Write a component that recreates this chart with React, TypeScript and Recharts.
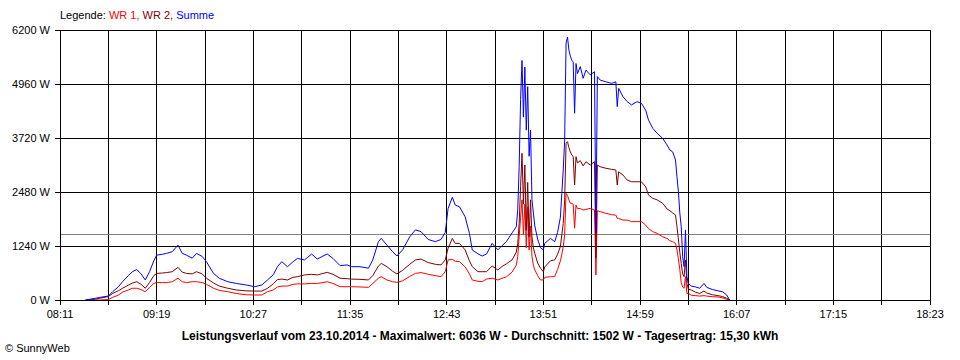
import { LineChart, Line, XAxis, YAxis, CartesianGrid, ReferenceLine } from 'recharts'

// Messzeitpunkte (hh:mm) und Leistung in W je Wechselrichter
const times = [
  '08:29', '08:36', '08:39', '08:45', '08:48', '08:52', '08:55', '08:59', '09:02', '09:05',
  '09:08', '09:11', '09:14', '09:17', '09:19', '09:23', '09:26', '09:30', '09:34', '09:37',
  '09:40', '09:44', '09:47', '09:51', '09:54', '09:59', '10:03', '10:09', '10:15', '10:22',
  '10:28', '10:33', '10:37', '10:41', '10:44', '10:47', '10:51', '10:55', '10:58', '11:03',
  '11:08', '11:12', '11:16', '11:19', '11:23', '11:28', '11:33', '11:36', '11:42', '11:48',
  '11:51', '11:55', '11:57', '12:01', '12:05', '12:08', '12:12', '12:17', '12:21', '12:25',
  '12:30', '12:35', '12:39', '12:42', '12:44', '12:47', '12:49', '12:52', '12:56', '12:59',
  '13:01', '13:05', '13:08', '13:11', '13:15', '13:19', '13:22', '13:25', '13:29', '13:32',
  '13:33', '13:34', '13:35', '13:36', '13:37', '13:38', '13:39', '13:40', '13:41', '13:42',
  '13:43', '13:44', '13:45', '13:47', '13:49', '13:51', '13:52', '13:56', '13:59', '14:01',
  '14:03', '14:04', '14:05', '14:06', '14:07', '14:08', '14:09', '14:10', '14:11', '14:12',
  '14:13', '14:14', '14:15', '14:17', '14:19', '14:21', '14:24', '14:27', '14:28', '14:29',
  '14:31', '14:35', '14:39', '14:42', '14:43', '14:44', '14:47', '14:50', '14:53', '14:57',
  '15:00', '15:03', '15:05', '15:08', '15:11', '15:15', '15:18', '15:20', '15:22', '15:24',
  '15:25', '15:26', '15:27', '15:28', '15:29', '15:30', '15:31', '15:32', '15:33', '15:35',
  '15:38', '15:41', '15:44', '15:46', '15:50', '15:54', '15:57', '16:00', '16:02',
]

const wr1 = [
  0, 0, 0, 10, 60, 110, 180, 230, 270, 270,
  240, 190, 290, 380, 400, 400, 400, 420, 500, 420,
  400, 420, 420, 400, 360, 270, 220, 190, 150, 120,
  115, 115, 190, 230, 300, 320, 320, 360, 370, 370,
  380, 380, 400, 420, 380, 305, 305, 305, 300, 290,
  380, 500, 535, 460, 420, 405, 440, 540, 610, 630,
  590, 560, 535, 650, 920, 935, 890, 880, 760, 600,
  460, 430, 420, 480, 500, 460, 500, 530, 640, 800,
  1000, 1450, 1900, 2300, 1500, 2200, 1200, 2140, 1150, 1700,
  1000, 800, 690, 560, 460, 460, 520, 535, 535, 700,
  900, 1050, 1225, 1500, 2450, 2400, 2300, 2220, 2220, 2200,
  1650, 2180, 2100, 2100, 2065, 2080, 2105, 2065, 575, 2050,
  2030, 1990, 1960, 1950, 1875, 1875, 1835, 1835, 1800, 1800,
  1800, 1720, 1640, 1570, 1530, 1450, 1415, 1360, 1340, 1300,
  1150, 950, 700, 400, 300, 270, 535, 150, 150, 110,
  100, 90, 100, 90, 75, 70, 50, 15, 0,
]

const wr2 = [
  0, 20, 40, 80, 150, 210, 270, 340, 390, 420,
  360, 270, 400, 560, 610, 620, 630, 650, 750, 640,
  610, 600, 650, 600, 500, 390, 320, 270, 230, 210,
  205, 205, 270, 370, 470, 480, 460, 520, 535, 575,
  590, 575, 610, 635, 590, 500, 490, 480, 475, 460,
  560, 780, 840, 765, 660, 600, 680, 820, 920, 940,
  860, 820, 805, 920, 1190, 1415, 1300, 1300, 1150, 900,
  765, 650, 650, 650, 780, 690, 770, 830, 920, 1100,
  1300, 1760, 2600, 3370, 2200, 3100, 1600, 2700, 1450, 2300,
  1450, 1200, 1070, 850, 730, 650, 760, 900, 920, 1050,
  1225, 1500, 1760, 2300, 3600, 3635, 3500, 3400, 3330, 3300,
  2640, 3290, 3150, 3200, 3080, 3175, 3100, 3175, 965, 3100,
  3060, 3025, 3000, 2985, 2640, 2945, 2870, 2755, 2715, 2715,
  2715, 2600, 2410, 2335, 2300, 2220, 2090, 2050, 2000, 1950,
  1685, 1400, 1100, 840, 600, 535, 920, 380, 250, 230,
  180, 150, 205, 160, 120, 100, 80, 40, 0,
]

const summe = [
  0, 40, 60, 90, 190, 300, 420, 560, 650, 700,
  600, 460, 650, 900, 1030, 1050, 1070, 1110, 1260, 1070,
  1030, 960, 1070, 1000, 880, 610, 500, 420, 380, 345,
  305, 345, 460, 580, 765, 880, 765, 880, 955, 920,
  1055, 940, 1010, 1055, 955, 790, 805, 765, 765, 730,
  920, 1340, 1415, 1260, 1110, 1010, 1150, 1450, 1610, 1570,
  1390, 1340, 1390, 1550, 2100, 2360, 2180, 2140, 1910, 1530,
  1150, 1060, 1010, 1055, 1300, 1150, 1250, 1340, 1540, 1685,
  2070, 3060, 4600, 5500, 4200, 5350, 3900, 4900, 3300, 3900,
  2300, 2000, 1700, 1400, 1200, 1150, 1300, 1415, 1340, 1550,
  1900, 2450, 2985, 3670, 5900, 6036, 5740, 5600, 5500, 5470,
  4290, 5430, 5200, 5360, 5090, 5280, 5170, 5240, 1540, 5130,
  5050, 5010, 4975, 5010, 4440, 4860, 4670, 4555, 4480, 4555,
  4515, 4360, 4130, 3940, 3830, 3710, 3560, 3445, 3400, 3215,
  2830, 2500, 2000, 1685, 995, 765, 1610, 535, 380, 320,
  300, 270, 380, 290, 240, 210, 190, 115, 0,
]

// Achsenraster: alle 34 Minuten, beschriftet jede zweite Linie
const xTicks = [
  '08:11', '08:45', '09:19', '09:53', '10:27', '11:01', '11:35', '12:09', '12:43', '13:17',
  '13:51', '14:25', '14:59', '15:33', '16:07', '16:41', '17:15', '17:49', '18:23',
]
const yTicks = [0, 1240, 2480, 3720, 4960, 6200]
const average = 1502

const toMin = (s: string) => {
  const [h, m] = s.split(':').map(Number)
  return h * 60 + m
}
const fmt = (v: number) => {
  const h = Math.floor(v / 60)
  const m = v % 60
  return `${String(h).padStart(2, '0')}:${String(m).padStart(2, '0')}`
}

const data = times.map((t, i) => ({ t: toMin(t), wr1: wr1[i], wr2: wr2[i], summe: summe[i] }))
const xTickMins = xTicks.map(toMin)
const labelled = new Set(xTickMins.filter((_, i) => i % 2 === 0))

const font = '"Liberation Sans", Arial, sans-serif'

export default function App() {
  return (
    <div style={{ position: 'absolute', left: 0, top: 0, width: 960, height: 360, background: '#fff', fontFamily: font }}>
      <div style={{ position: 'absolute', left: 60, top: 9, fontSize: 11, whiteSpace: 'nowrap' }}>
        <span style={{ color: '#000' }}>Legende: </span>
        <span style={{ color: '#ff0000' }}>WR 1, </span>
        <span style={{ color: '#800000' }}>WR 2, </span>
        <span style={{ color: '#0000ff' }}>Summe</span>
      </div>
      <LineChart width={960} height={360} data={data} margin={{ top: 30, right: 30, bottom: 40, left: 0 }}>
        <CartesianGrid stroke="#000" strokeOpacity={1} shapeRendering="crispEdges" />
        <XAxis
          type="number"
          dataKey="t"
          domain={[xTickMins[0], xTickMins[xTickMins.length - 1]]}
          ticks={xTickMins}
          interval={0}
          tickFormatter={(v: number) => (labelled.has(v) ? fmt(v) : '')}
          height={20}
          tickSize={5}
          tickMargin={5}
          stroke="#000"
          shapeRendering="crispEdges"
          tick={{ fill: '#000', fontSize: 11, fontFamily: font }}
        />
        <YAxis
          type="number"
          domain={[0, 6200]}
          ticks={yTicks}
          interval={0}
          tickFormatter={(v: number) => `${v} W`}
          width={60}
          tickSize={5}
          tickMargin={5}
          stroke="#000"
          shapeRendering="crispEdges"
          tick={{ fill: '#000', fontSize: 11, fontFamily: font }}
        />
        <ReferenceLine y={average} stroke="#808080" strokeWidth={1} shapeRendering="crispEdges" />
        <Line dataKey="wr1" type="linear" stroke="#ff0000" strokeWidth={1} dot={false} isAnimationActive={false} />
        <Line dataKey="wr2" type="linear" stroke="#800000" strokeWidth={1} dot={false} isAnimationActive={false} />
        <Line dataKey="summe" type="linear" stroke="#0000ff" strokeWidth={1} dot={false} isAnimationActive={false} />
      </LineChart>
      <div style={{ position: 'absolute', left: 0, width: 960, top: 329, textAlign: 'center', fontSize: 12, fontWeight: 'bold', whiteSpace: 'nowrap' }}>
        Leistungsverlauf vom 23.10.2014 - Maximalwert: 6036 W - Durchschnitt: 1502 W - Tagesertrag: 15,30 kWh
      </div>
      <div style={{ position: 'absolute', left: 5, top: 342, fontSize: 11 }}>© SunnyWeb</div>
    </div>
  )
}
